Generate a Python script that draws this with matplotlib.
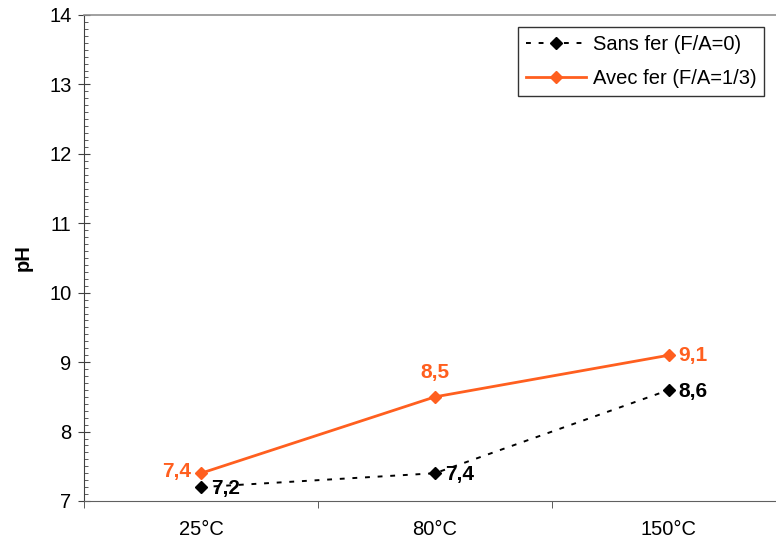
import matplotlib
matplotlib.use("Agg")
import matplotlib.pyplot as plt
from matplotlib.ticker import MultipleLocator

plt.rcParams['font.family'] = ['Liberation Sans', 'DejaVu Sans']

categories = ["25°C", "80°C", "150°C"]
sans_fer = [7.2, 7.4, 8.6]
avec_fer = [7.4, 8.5, 9.1]
labels_sans = ["7,2", "7,4", "8,6"]
labels_avec = ["7,4", "8,5", "9,1"]

orange = '#FF5F1F'

fig = plt.figure(figsize=(7.76, 5.42), dpi=100)
ax = fig.add_axes([84/776, 41/542, 702/776, 486/542])

x = list(range(len(categories)))
ax.plot(x, sans_fer, color='black', linestyle=(0, (2.5, 4)), linewidth=1.4,
        marker='D', markersize=6, label='Sans fer (F/A=0)', zorder=3)
ax.plot(x, avec_fer, color=orange, linestyle='-', linewidth=2.0,
        marker='D', markersize=6, label='Avec fer (F/A=1/3)', zorder=4)

# data labels
for i, (v, t) in enumerate(zip(sans_fer, labels_sans)):
    ax.annotate(t, (i, v), xytext=(7, -1), textcoords='offset points',
                ha='left', va='center', fontsize=15, fontweight='bold', color='black')
offs = [(-7, 1, 'right', 'center'), (0, 11, 'center', 'bottom'), (7, 0, 'left', 'center')]
for i, (v, t) in enumerate(zip(avec_fer, labels_avec)):
    dx, dy, ha, va = offs[i]
    ax.annotate(t, (i, v), xytext=(dx, dy), textcoords='offset points',
                ha=ha, va=va, fontsize=15, fontweight='bold', color=orange)

ax.set_xlim(-0.5, 2.5)
ax.set_ylim(7, 14)
ax.set_xticks(x)
ax.set_xticklabels(categories, fontsize=14.5)
ax.set_xticks([-0.5, 0.5, 1.5, 2.5], minor=True)
ax.tick_params(axis='x', which='major', length=0, pad=14)
ax.tick_params(axis='x', which='minor', length=5, direction='out', color='#404040')

ax.yaxis.set_major_locator(MultipleLocator(1))
ax.yaxis.set_minor_locator(MultipleLocator(0.1))
ax.tick_params(axis='y', which='major', length=8, direction='inout', labelsize=14.5,
               color='#404040', pad=5)
ax.tick_params(axis='y', which='minor', length=3, direction='in', color='#404040')
ax.set_ylabel('pH', fontsize=14.5, fontweight='bold', labelpad=12)

for s in ['right']:
    ax.spines[s].set_visible(False)
ax.spines['left'].set_color('#404040')
ax.spines['bottom'].set_color('#606060')
ax.spines['top'].set_color('#909090')
ax.spines['top'].set_linewidth(1.2)

leg = ax.legend(loc='upper left', bbox_to_anchor=((518-84)/702, (542-27-41)/486),
                frameon=True, fancybox=False, fontsize=14.5, handlelength=3.0,
                handletextpad=0.3, borderpad=0.4, labelspacing=0.75, borderaxespad=0)
leg.get_frame().set_edgecolor('black')
leg.get_frame().set_linewidth(1.0)

fig.savefig('out.png', dpi=100)
